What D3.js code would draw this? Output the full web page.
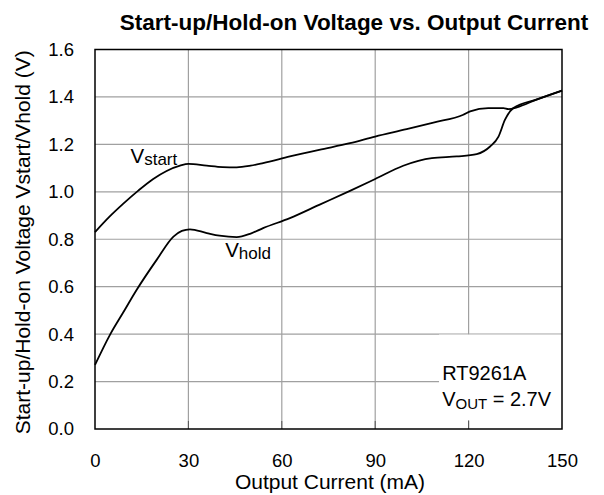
<!DOCTYPE html>
<html>
<head>
<meta charset="utf-8">
<script src="https://cdn.jsdelivr.net/npm/d3@7"></script>
<style>
  body { margin: 0; background: #fff; }
  text { font-family: "Liberation Sans", Arial, sans-serif; fill: #000; }
</style>
</head>
<body>
<div id="grafica"></div>
<script>
// Datos
const corriente_start = [0, 4.5, 9.1, 14, 18.7, 23, 27.3, 30, 35.9, 41, 45.5, 50, 54, 62.6, 72, 81.9, 90, 100.1, 108.7, 118.3, 120.5, 126.3, 131.2, 132.8, 135.5, 142, 150]
const vstart = [0.83, 0.893, 0.95, 1.006, 1.054, 1.088, 1.11, 1.118, 1.11, 1.104, 1.103, 1.11, 1.121, 1.149, 1.177, 1.205, 1.233, 1.264, 1.292, 1.325, 1.339, 1.353, 1.353, 1.349, 1.356, 1.39, 1.427]

const corriente_hold = [0, 4.8, 9, 13.4, 19.8, 25.2, 27.9, 30.5, 35.9, 40, 45.5, 50, 54, 62.6, 72, 81.9, 90, 99, 108.2, 116.2, 122.6, 126.9, 129.6, 131.7, 134.4, 142, 150]
const vhold = [0.27, 0.397, 0.49, 0.587, 0.713, 0.811, 0.835, 0.842, 0.826, 0.815, 0.809, 0.824, 0.847, 0.889, 0.945, 1.004, 1.054, 1.11, 1.142, 1.149, 1.159, 1.191, 1.233, 1.304, 1.353, 1.39, 1.427]

const xTicks = [0, 30, 60, 90, 120, 150]
const yTicks = [0.0, 0.2, 0.4, 0.6, 0.8, 1.0, 1.2, 1.4, 1.6]

const anchoTotal = 604
const altoTotal = 495

const margins = { top: 49.5, right: 42, bottom: 66, left: 95 }
const ancho = anchoTotal - margins.left - margins.right
const alto = altoTotal - margins.top - margins.bottom

const svg = d3.select("#grafica").append("svg")
    .attr("width", anchoTotal)
    .attr("height", altoTotal)

const g = svg.append("g")
    .attr("transform", `translate(${margins.left},${margins.top})`)

// Escaladores
const x = d3.scaleLinear().domain([0, 150]).range([0, ancho])
const y = d3.scaleLinear().domain([0, 1.6]).range([alto, 0])

// Rejilla
g.append("g").selectAll("line").data(xTicks.slice(1, -1)).join("line")
    .attr("x1", d => x(d)).attr("x2", d => x(d))
    .attr("y1", 0).attr("y2", alto)
    .attr("stroke", "#a0a0a0").attr("stroke-width", 1.2)
g.append("g").selectAll("line").data(yTicks.slice(1, -1)).join("line")
    .attr("x1", 0).attr("x2", ancho)
    .attr("y1", d => y(d)).attr("y2", d => y(d))
    .attr("stroke", "#a0a0a0").attr("stroke-width", 1.2)

// Caja blanca de la anotacion
g.append("rect")
    .attr("x", x(110.5)).attr("y", y(0.2) - 47)
    .attr("width", ancho - x(110.5)).attr("height", alto - 9 - (y(0.2) - 47))
    .attr("fill", "#fff")

// Ticks interiores
g.append("g").selectAll("line").data(xTicks.slice(1, -1)).join("line")
    .attr("x1", d => x(d)).attr("x2", d => x(d))
    .attr("y1", alto).attr("y2", alto - 8)
    .attr("stroke", "#555").attr("stroke-width", 1)

// Ejes
const xAxis = d3.axisBottom(x).tickValues(xTicks).tickSize(0).tickPadding(25).tickFormat(d3.format("d"))
const yAxis = d3.axisLeft(y).tickValues(yTicks).tickSize(0).tickPadding(21).tickFormat(d3.format(".1f"))
const xAxisGroup = g.append("g").attr("transform", `translate(0,${alto})`).call(xAxis)
const yAxisGroup = g.append("g").call(yAxis)
xAxisGroup.select(".domain").remove()
yAxisGroup.select(".domain").remove()
xAxisGroup.selectAll("text").attr("font-size", 18.5).attr("font-family", "Liberation Sans, Arial, sans-serif")
yAxisGroup.selectAll("text").attr("font-size", 18.5).attr("font-family", "Liberation Sans, Arial, sans-serif")

// Marco
g.append("rect")
    .attr("width", ancho).attr("height", alto)
    .attr("fill", "none").attr("stroke", "#000").attr("stroke-width", 1.5)

// Curvas
const linea = d3.line().curve(d3.curveMonotoneX)
const serieStart = corriente_start.map((c, i) => [x(c), y(vstart[i])])
const serieHold = corriente_hold.map((c, i) => [x(c), y(vhold[i])])

g.append("path").attr("d", linea(serieStart))
    .attr("fill", "none").attr("stroke", "#000").attr("stroke-width", 1.8)
g.append("path").attr("d", linea(serieHold))
    .attr("fill", "none").attr("stroke", "#000").attr("stroke-width", 1.8)

// Etiquetas de las curvas
const vs = g.append("text").attr("x", x(11.4)).attr("y", y(1.122)).attr("font-size", 20.5)
vs.append("tspan").text("V")
vs.append("tspan").attr("font-size", 17).attr("dy", 2).text("start")

const vh = g.append("text").attr("x", x(41.8)).attr("y", y(0.726)).attr("font-size", 20.5)
vh.append("tspan").text("V")
vh.append("tspan").attr("font-size", 17).attr("dy", 2).text("hold")

// Anotacion
g.append("text").attr("x", x(111.5)).attr("y", y(0.207)).attr("font-size", 20).text("RT9261A")
const vo = g.append("text").attr("x", x(111.5)).attr("y", y(0.097)).attr("font-size", 20)
vo.append("tspan").text("V")
vo.append("tspan").attr("font-size", 15).attr("dy", 3).text("OUT")
vo.append("tspan").attr("dy", -3).text(" = 2.7V")

// Titulos
svg.append("text")
    .attr("x", 354).attr("y", 30)
    .attr("text-anchor", "middle").attr("font-size", 22.5).attr("font-weight", "bold")
    .text("Start-up/Hold-on Voltage vs. Output Current")

svg.append("text")
    .attr("x", 330).attr("y", 489)
    .attr("text-anchor", "middle").attr("font-size", 21)
    .text("Output Current (mA)")

svg.append("text")
    .attr("transform", `translate(30,${margins.top + alto / 2 + 3}) rotate(-90)`)
    .attr("text-anchor", "middle").attr("font-size", 21)
    .text("Start-up/Hold-on Voltage Vstart/Vhold (V)")
</script>
</body>
</html>
